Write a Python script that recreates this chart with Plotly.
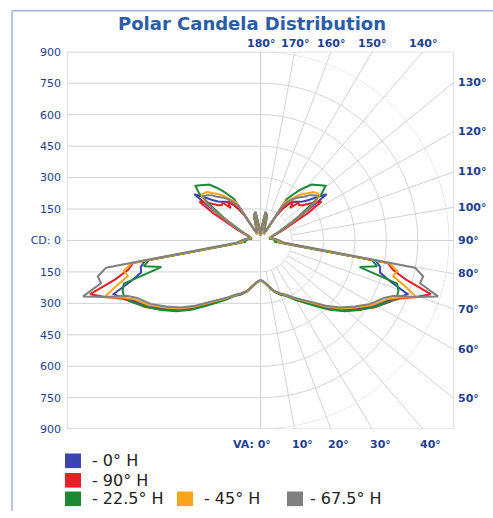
import numpy as np
import plotly.graph_objects as go

# ---------------- data ----------------
VA = [0, 5, 10, 15, 20, 25, 30, 35, 40, 45, 50, 55, 60, 65,
      67.5, 70, 72.5, 75, 77.5, 80,
      85, 90, 95, 100, 105, 110, 115, 120,
      122.5, 125, 127.5, 130, 132.5, 135, 137.5, 140, 142.5, 145, 147.5, 150,
      155, 160, 165, 170, 175, 180]

cd_0H = [190, 200, 222, 251, 272, 289, 320, 355, 397, 456, 514, 567, 622, 675,
         715, 746, 650, 590, 585, 560,
         80, 80, 65, 50, 50, 62, 110, 190,
         260, 385, 340, 300, 275, 262, 250, 238, 215, 185, 150, 55,
         35, 50, 115, 130, 55, 25]

cd_90H = [190, 200, 223, 252, 273, 290, 322, 358, 402, 462, 520, 575, 635, 685,
          722, 790, 852, 717, 647, 617,
          90, 80, 65, 50, 50, 65, 120, 260,
          345, 320, 285, 262, 250, 255, 210, 245, 220, 190, 140, 55,
          35, 50, 110, 135, 55, 25]

cd_22H = [191, 201, 224, 253, 275, 292, 325, 362, 408, 468, 525, 578, 632, 688,
          705, 700, 684, 490, 570, 540,
          70, 75, 60, 45, 45, 55, 95, 165,
          220, 290, 370, 405, 390, 375, 362, 330, 300, 265, 235, 60,
          35, 50, 105, 125, 50, 25]

cd_45H = [190, 200, 222, 250, 270, 287, 317, 350, 390, 448, 505, 558, 615, 665,
          710, 793, 720, 655, 668, 625,
          85, 85, 70, 55, 50, 60, 100, 180,
          250, 320, 355, 352, 342, 318, 300, 280, 255, 232, 215, 60,
          35, 55, 120, 135, 60, 25]

cd_67H = [188, 198, 220, 248, 268, 285, 314, 345, 384, 440, 498, 550, 605, 650,
          690, 790, 888, 788, 795, 748,
          110, 90, 75, 60, 55, 60, 100, 175,
          245, 310, 345, 335, 320, 295, 280, 265, 245, 220, 195, 60,
          40, 60, 125, 140, 65, 30]

series_names = ["0° H", "90° H", "22.5° H", "45° H", "67.5° H"]
series_values = [cd_0H, cd_90H, cd_22H, cd_45H, cd_67H]
series_colors = ["#3a46ae", "#ee1c25", "#1a8a35", "#f8a51c", "#808080"]

cd_levels = [150, 300, 450, 600, 750, 900]
cd_ticks = [900, 750, 600, 450, 300, 150, 0, -150, -300, -450, -600, -750, -900]
cd_ticktext = ["900", "750", "600", "450", "300", "150", "CD: 0",
               "150", "300", "450", "600", "750", "900"]
top_angles = [180, 170, 160, 150, 140]
right_angles = [130, 120, 110, 100, 90, 80, 70, 60, 50]
bottom_angles = [10, 20, 30, 40]

# ---------------- layout geometry ----------------
W, H = 493, 518
FX0, FX1 = 67, 454
FY0, FY1 = 47, 434
xdom = [FX0 / W, FX1 / W]
ydom = [1 - FY1 / H, 1 - FY0 / H]
RMAX = 900

GRID = "#d2d2d2"
LABEL = "#233e90"
FONT = "DejaVu Sans"

fig = go.Figure()

# invisible cartesian trace so the cartesian axes (used for grid/labels) exist
fig.add_trace(go.Scatter(x=[0], y=[0], mode="markers", marker=dict(opacity=0),
                         hoverinfo="skip", showlegend=False))

# right-half circular grid
theta_arc = np.linspace(0, 180, 181)
for lv in cd_levels:
    fig.add_trace(go.Scatterpolar(r=[lv] * len(theta_arc), theta=theta_arc,
                                  mode="lines", line=dict(color=GRID, width=1),
                                  hoverinfo="skip", showlegend=False,
                                  cliponaxis=False))

# candela curves, mirrored on both sides of the nadir
for name, vals, col in zip(series_names, series_values, series_colors):
    theta = list(VA) + [360 - a for a in reversed(VA)]
    r = list(vals) + list(reversed(vals))
    fig.add_trace(go.Scatterpolar(r=r, theta=theta, mode="lines", name=name,
                                  line=dict(color=col, width=2),
                                  showlegend=False, cliponaxis=False))

shapes = []
# left-half horizontal grid
for yv in cd_ticks:
    shapes.append(dict(type="line", xref="x", yref="y", x0=-RMAX, x1=0, y0=yv, y1=yv,
                       line=dict(color=GRID, width=1), layer="below"))
# centre vertical line
shapes.append(dict(type="line", xref="x", yref="y", x0=0, x1=0, y0=-RMAX, y1=RMAX,
                   line=dict(color=GRID, width=1), layer="below"))
# radial lines out to the frame
for a in range(10, 180, 10):
    s, c = np.sin(np.radians(a)), -np.cos(np.radians(a))
    t = RMAX / max(abs(s), abs(c))
    shapes.append(dict(type="line", xref="x", yref="y", x0=150 * s, y0=150 * c,
                       x1=t * s, y1=t * c, line=dict(color=GRID, width=1), layer="below"))
# frame
shapes.append(dict(type="rect", xref="x", yref="y", x0=-RMAX, x1=RMAX, y0=-RMAX, y1=RMAX,
                   line=dict(color="#c6c6c6", width=1), layer="below"))
# outer light-blue border
bx = 12 / W
by = 1 - 5 / H
shapes.append(dict(type="line", xref="paper", yref="paper", x0=bx, x1=bx, y0=0, y1=by,
                   line=dict(color="#9fb2e2", width=1.5)))
shapes.append(dict(type="line", xref="paper", yref="paper", x0=bx, x1=1, y0=by, y1=by,
                   line=dict(color="#9fb2e2", width=1.5)))

annotations = []
lab_font = dict(family=FONT, size=11, color=LABEL)
for a in top_angles:
    annotations.append(dict(x=RMAX * np.tan(np.radians(180 - a)), y=RMAX, xref="x", yref="y",
                            text=f"<b>{a}°</b>", showarrow=False, xanchor="center",
                            yanchor="bottom", yshift=0, font=lab_font))
for a in right_angles:
    annotations.append(dict(x=RMAX, y=-RMAX / np.tan(np.radians(a)), xref="x", yref="y",
                            text=f"<b>{a}°</b>", showarrow=False, xanchor="left",
                            yanchor="middle", xshift=2, font=lab_font))
for a in bottom_angles:
    annotations.append(dict(x=RMAX * np.tan(np.radians(a)), y=-RMAX, xref="x", yref="y",
                            text=f"<b>{a}°</b>", showarrow=False, xanchor="center",
                            yanchor="top", xshift=8, yshift=-7, font=lab_font))
annotations.append(dict(x=0, y=-RMAX, xref="x", yref="y", text="<b>VA: 0°</b>",
                        showarrow=False, xanchor="right", yanchor="top",
                        xshift=12, yshift=-7, font=lab_font))

# title
annotations.append(dict(x=251.5 / W, y=1 - 18 / H, xref="paper", yref="paper",
                        text="<b>Polar Candela Distribution</b>", showarrow=False,
                        xanchor="center", yanchor="middle",
                        font=dict(family=FONT, size=18, color="#2a5caa")))

# legend (coloured squares + labels)
legend_rows = [
    [(0, 65, 90)],
    [(1, 65, 90)],
    [(2, 65, 90), (3, 177, 202), (4, 287, 308)],
]
row_y = [459, 479, 498]
for ry, items in zip(row_y, legend_rows):
    for idx, sx, tx in items:
        shapes.append(dict(type="rect", xref="paper", yref="paper",
                           x0=sx / W, x1=(sx + 16) / W,
                           y0=1 - (ry + 15) / H, y1=1 - ry / H,
                           line=dict(width=0), fillcolor=series_colors[idx]))
        annotations.append(dict(x=tx / W, y=1 - (ry + 7.5) / H, xref="paper", yref="paper",
                                text="- " + series_names[idx], showarrow=False,
                                xanchor="left", yanchor="middle",
                                font=dict(family=FONT, size=16, color="#222222")))

fig.update_layout(
    width=W, height=H,
    margin=dict(l=0, r=0, t=0, b=0),
    paper_bgcolor="white", plot_bgcolor="rgba(0,0,0,0)",
    showlegend=False,
    xaxis=dict(domain=xdom, range=[-RMAX, RMAX], visible=False, fixedrange=True),
    yaxis=dict(domain=ydom, range=[-RMAX, RMAX], showgrid=False, zeroline=False,
               showline=False, tickmode="array", tickvals=cd_ticks, ticktext=cd_ticktext,
               ticks="", ticklabelstandoff=5, tickprefix="<b>", ticksuffix="</b>",
               tickfont=dict(family=FONT, size=11, color=LABEL), fixedrange=True),
    polar=dict(domain=dict(x=xdom, y=ydom), bgcolor="rgba(0,0,0,0)", hole=0,
               radialaxis=dict(range=[0, RMAX], visible=False),
               angularaxis=dict(rotation=-90, direction="counterclockwise", visible=False)),
    shapes=shapes,
    annotations=annotations,
)

fig.write_html("out.html", config={"displayModeBar": False},
               post_script="document.body.style.margin='0';document.body.style.overflow='hidden';")
